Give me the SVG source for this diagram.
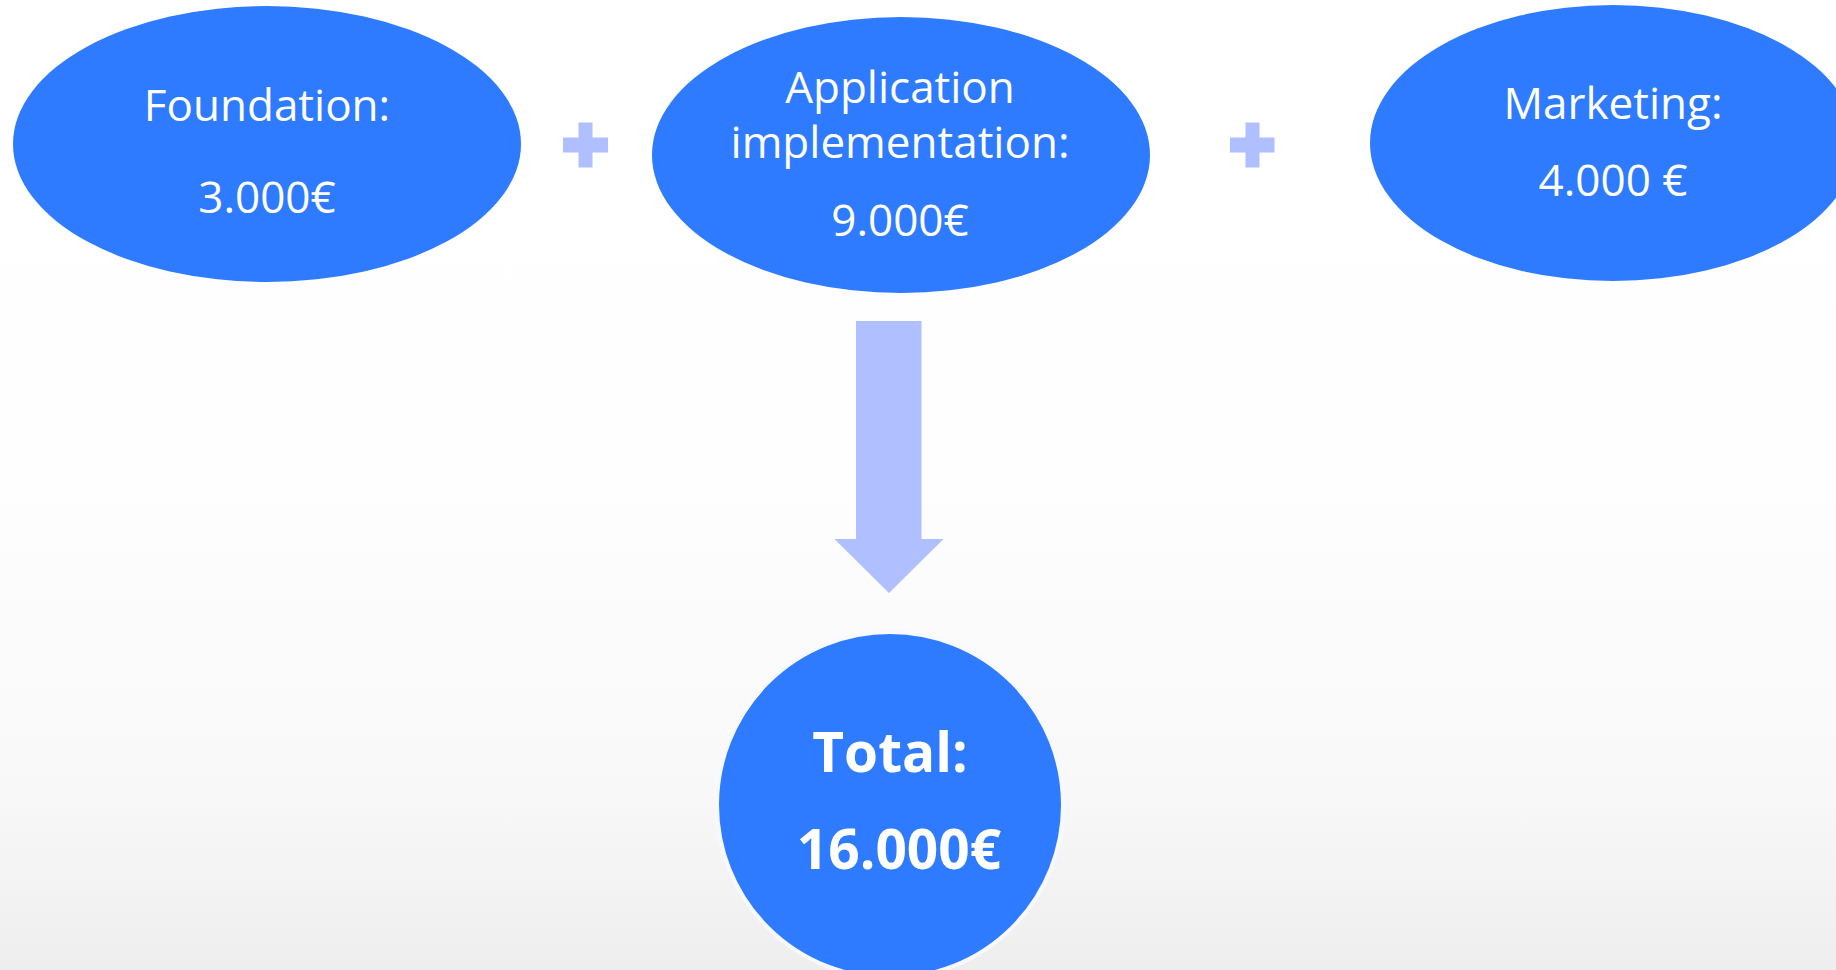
<svg xmlns="http://www.w3.org/2000/svg" width="1836" height="970" viewBox="0 0 1836 970">
<defs>
<linearGradient id="bg" x1="0" y1="0" x2="0" y2="1">
<stop offset="0" stop-color="#ffffff"/>
<stop offset="0.5" stop-color="#fefefe"/>
<stop offset="0.82" stop-color="#f8f8f8"/>
<stop offset="1" stop-color="#eeeeee"/>
</linearGradient>
</defs>
<style>
.node{fill:#2e7bff;}
.t{font-family:"Open Sans","Liberation Sans",sans-serif;font-size:44px;fill:#ffffff;text-anchor:middle;}
.tb{font-family:"Open Sans","Liberation Sans",sans-serif;font-size:55px;font-weight:bold;fill:#ffffff;text-anchor:middle;}
.conn{fill:#afbfff;}
</style>
<rect x="0" y="0" width="1836" height="970" fill="url(#bg)"/>
<g id="foundation">
<ellipse class="node" cx="267" cy="144" rx="254" ry="138"/>
<text class="t" x="267" y="121">Foundation:</text>
<text class="t" x="267" y="213">3.000€</text>
</g>
<g id="application">
<ellipse class="node" cx="901" cy="155" rx="249" ry="138"/>
<text class="t" x="900" y="103">Application</text>
<text class="t" x="900" y="158">implementation:</text>
<text class="t" x="900" y="236">9.000€</text>
</g>
<g id="marketing">
<ellipse class="node" cx="1613" cy="143" rx="243" ry="138"/>
<text class="t" x="1613" y="119">Marketing:</text>
<text class="t" x="1613" y="196">4.000 €</text>
</g>
<g id="total">
<circle class="node" cx="890" cy="805" r="173" stroke="#f8f9ff" stroke-width="4"/>
<text class="tb" x="890" y="772">Total:</text>
<text class="tb" x="899" y="869">16.000€</text>
</g>
<g id="connectors">
<path class="conn" d="M563,137.5h15.5v-15h14v15h15.5v15h-15.5v15h-14v-15h-15.5z"/>
<path class="conn" d="M1230,137.5h15.5v-15h14v15h15v15h-15v15h-14v-15h-15.5z"/>
<path class="conn" d="M856,321h65.5v218h22L889,593l-54.5,-54h21.5z"/>
</g>
</svg>
